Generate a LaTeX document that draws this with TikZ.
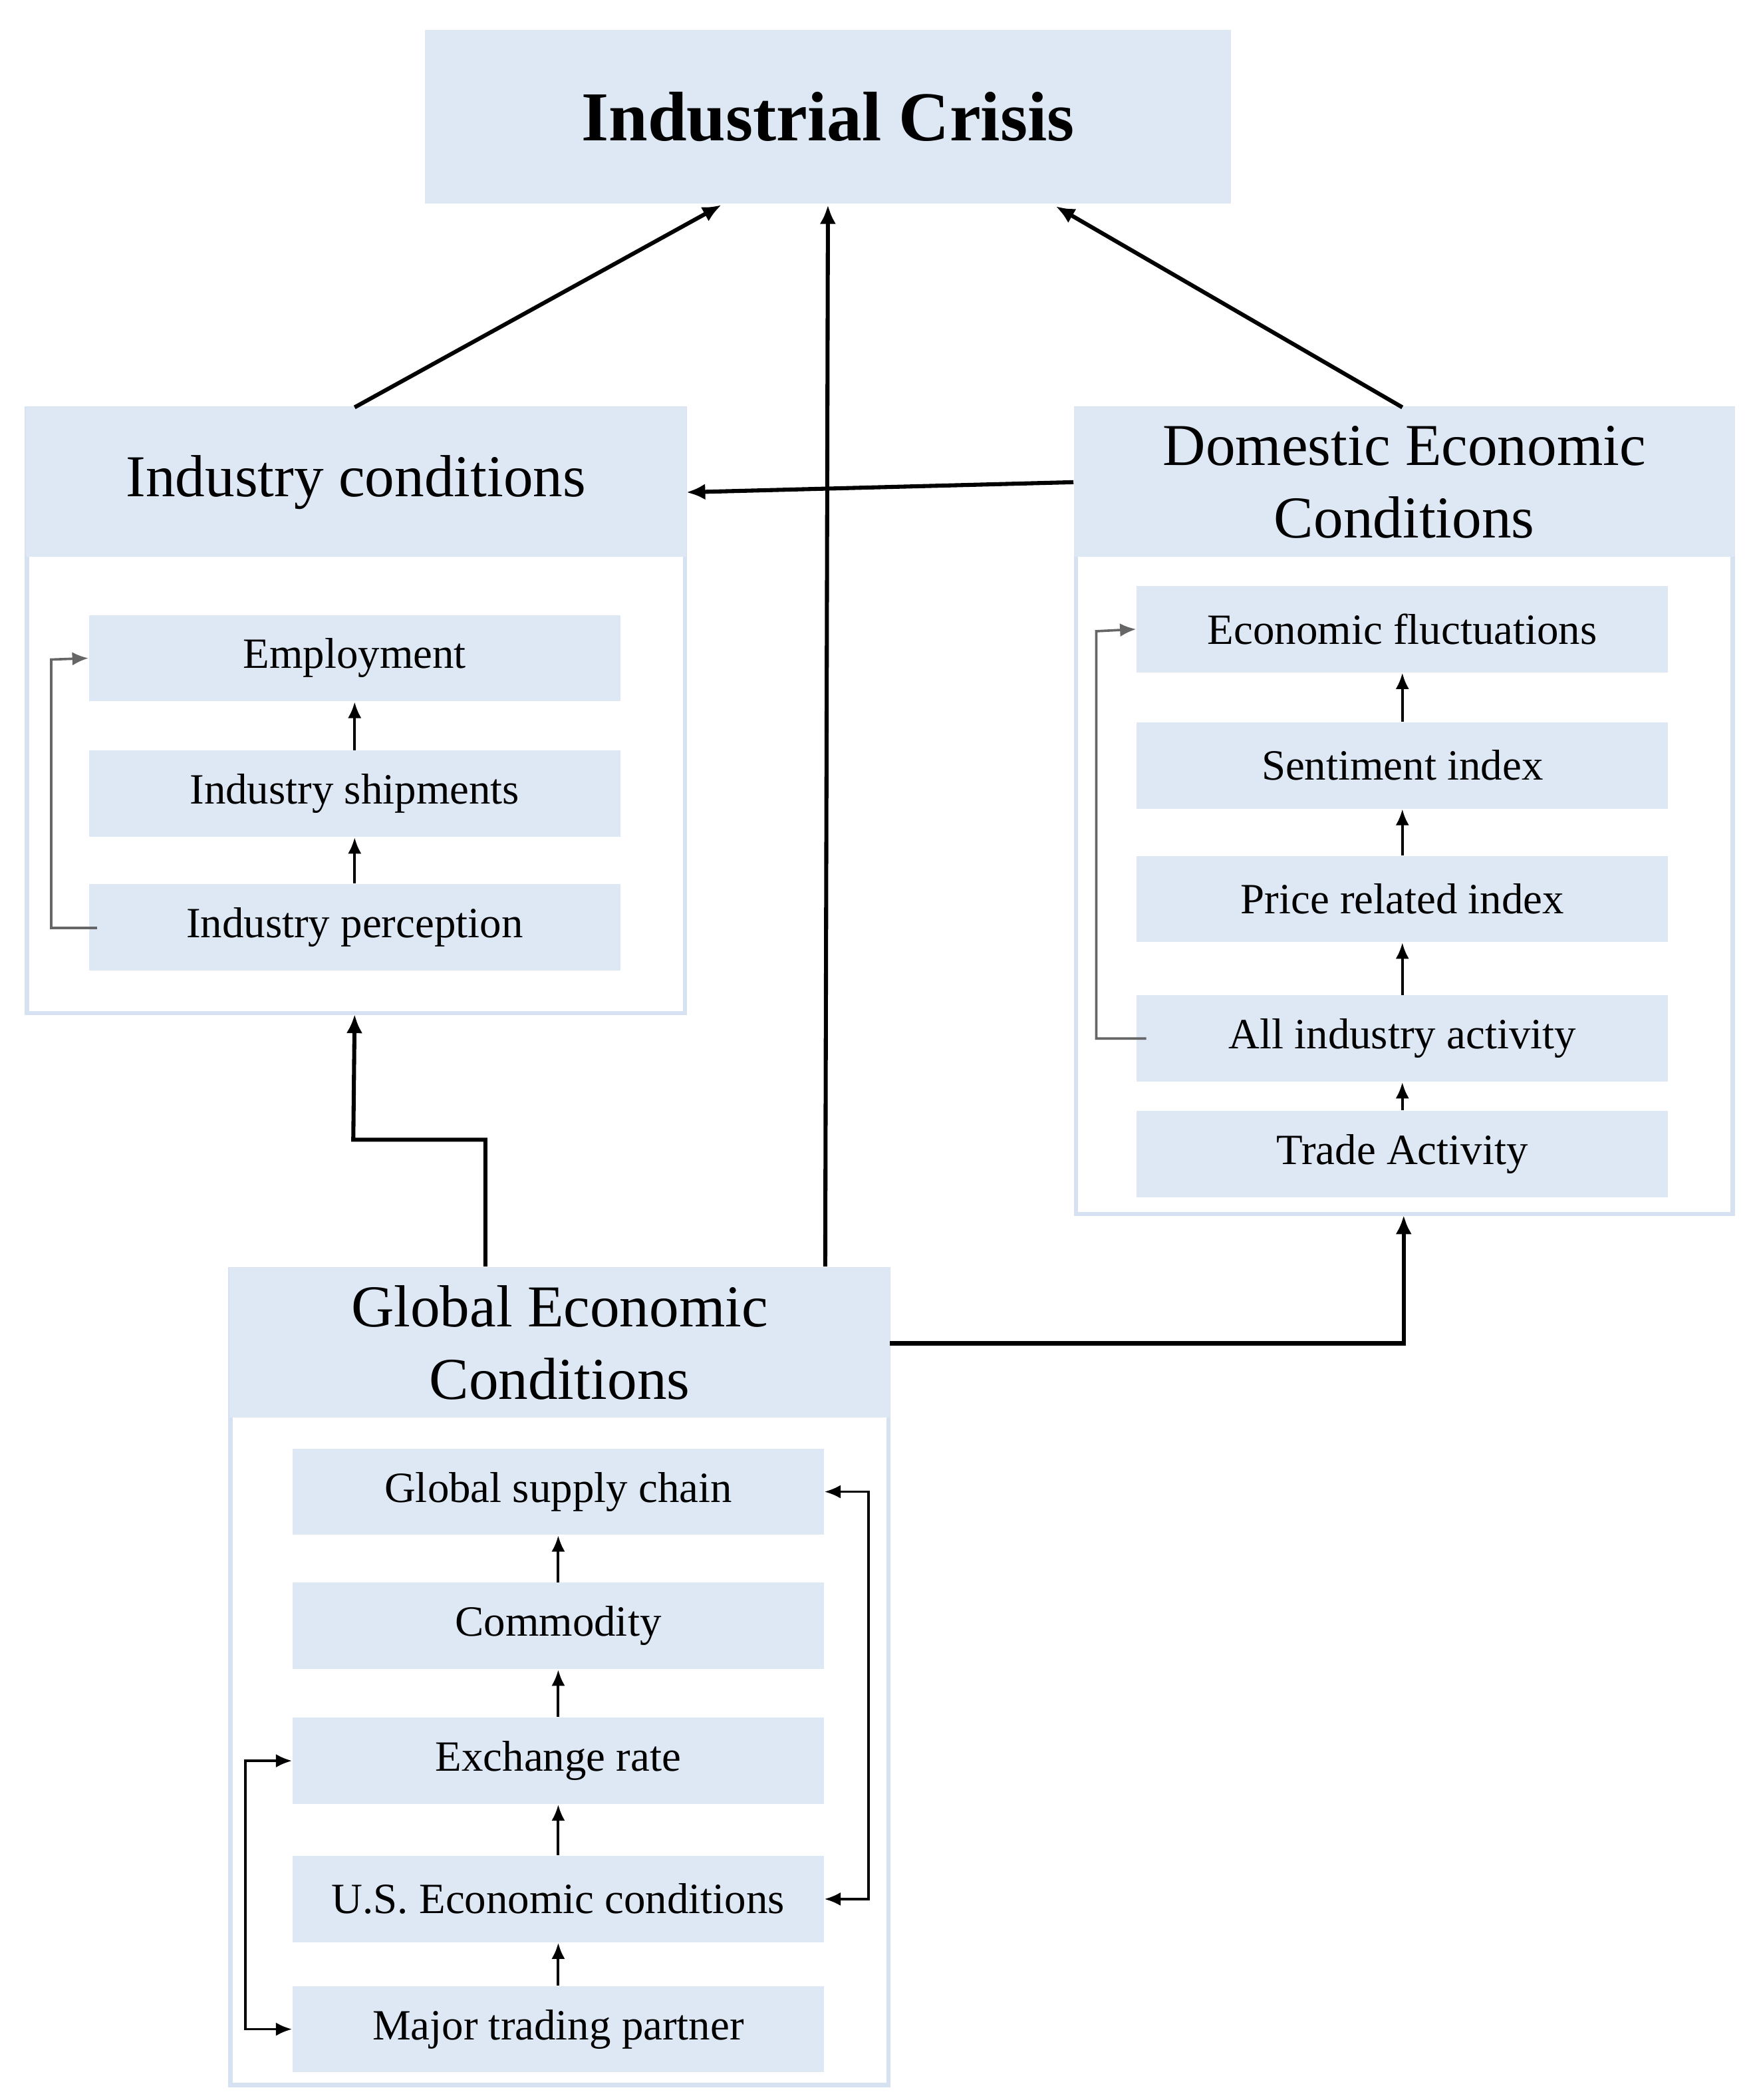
\documentclass[tikz,border=0pt]{standalone}
\usepackage{fontspec}
\setmainfont{Liberation Serif}
\usetikzlibrary{arrows.meta}
\definecolor{lb}{HTML}{DEE8F4}
\definecolor{fr}{HTML}{D6E2F2}
\begin{document}
\begin{tikzpicture}[x=0.5pt,y=-0.5pt,
 box/.style={fill=lb,draw=none,inner sep=0pt,align=center},
 item/.style={box,minimum width=197pt,minimum height=32pt,font=\fontsize{16}{18}\selectfont},
 head/.style={box,minimum width=245pt,minimum height=55.5pt,font=\fontsize{22}{27}\selectfont},
 frame/.style={draw=fr,line width=1.6pt},
 big/.style={line width=1.5pt,-{Latex[length=7pt,width=6pt]}},
 small/.style={line width=1pt,-{Latex[length=6pt,width=5pt]}},
 loop/.style={line width=0.9pt,-{Latex[length=6pt,width=5pt]}}]
\useasboundingbox (0,0) rectangle (1300,1557);
% frames
\draw[frame] (20,303) rectangle (508,751);
\draw[frame] (798,303) rectangle (1285,900);
\draw[frame] (171,941) rectangle (659,1546);
% top
\node[box,minimum width=299pt,minimum height=64.5pt,font=\bfseries\fontsize{26}{30}\selectfont] (crisis) at (614,86.5) {Industrial Crisis};
% headers
\node[head] (ind) at (264,357.5) {Industry conditions};
\node[head] (dom) at (1041.5,357.5) {Domestic Economic\\Conditions};
\node[head] (glo) at (415,995.5) {Global Economic\\Conditions};
% industry items
\node[item] (emp) at (263,488) {Employment};
\node[item] (ship) at (263,588.5) {Industry shipments};
\node[item] (perc) at (263,687.5) {Industry perception};
% domestic items
\node[item] (fluc) at (1040,466.5) {Economic fluctuations};
\node[item] (sent) at (1040,567.5) {Sentiment index};
\node[item] (price) at (1040,666.5) {Price related index};
\node[item] (allind) at (1040,770) {All industry activity};
\node[item] (trade) at (1040,855.5) {Trade Activity};
% global items
\node[item] (gsc) at (414,1106) {Global supply chain};
\node[item] (comm) at (414,1205.5) {Commodity};
\node[item] (exch) at (414,1305.5) {Exchange rate};
\node[item] (us) at (414,1408) {U.S. Economic conditions};
\node[item] (major) at (414,1504.5) {Major trading partner};
\coordinate (indbot) at (263,752);
\coordinate (dombot) at (1041,901);
% main arrows
\draw[big] (263,302) -- (535,152);
\draw[big] (612,939) -- (614,152);
\draw[big] (1040,302) -- (783,153);
\draw[big] (dom.west) -- (509,365);
\draw[big] (360,939) -- (360,845) -- (262,845) -- (indbot);
\draw[big] (660,996) -- (1041,996) -- (dombot);
% internal arrows
\draw[small] (perc.north) -- (ship.south);
\draw[small] (ship.north) -- (emp.south);
\draw[small] (sent.north) -- (fluc.south);
\draw[small] (price.north) -- (sent.south);
\draw[small] (allind.north) -- (price.south);
\draw[small] (trade.north) -- (allind.south);
\draw[small] (comm.north) -- (gsc.south);
\draw[small] (exch.north) -- (comm.south);
\draw[small] (us.north) -- (exch.south);
\draw[small] (major.north) -- (us.south);
% loops
\draw[loop,draw=gray!80!black] (72,688) -- (38,688) -- (38,489) -- (emp.west);
\draw[loop,draw=gray!80!black] (850,770) -- (813,770) -- (813,468) -- (fluc.west);
\draw[loop,{Latex[length=6pt,width=5pt]}-{Latex[length=6pt,width=5pt]}] (gsc.east) -- (644,1106) -- (644,1408) -- (us.east);
\draw[loop,{Latex[length=6pt,width=5pt]}-{Latex[length=6pt,width=5pt]}] (exch.west) -- (182,1305.5) -- (182,1504.5) -- (major.west);
\end{tikzpicture}
\end{document}
